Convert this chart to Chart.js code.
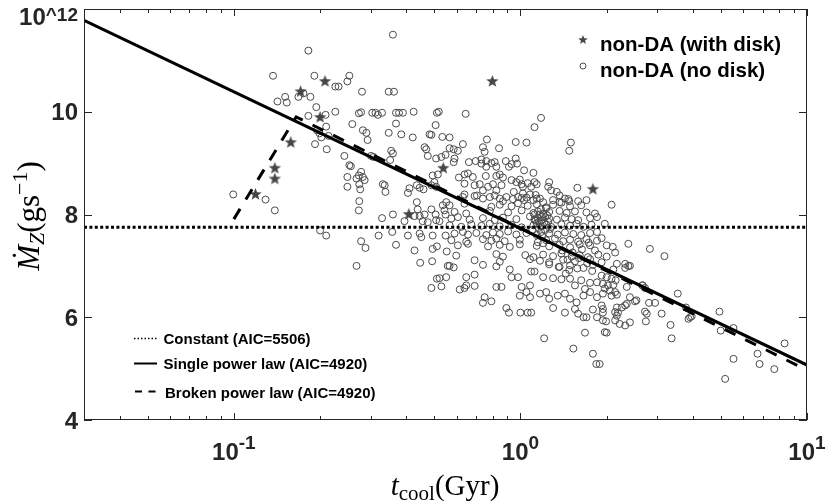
<!DOCTYPE html>
<html lang="en">
<head>
  <meta charset="UTF-8">
  <title>Mdot_Z vs t_cool</title>
  <script src="https://cdn.jsdelivr.net/npm/chart.js"></script>
  <style>
    body { margin: 0; background: #fff; }
    #caixa { width: 827px; height: 503px; }
  </style>
</head>
<body>
<div id="caixa"><canvas id="grafico"></canvas></div>
<script>
// non-DA with disk (stars)
var tDisco = [0.119, 0.139, 0.139, 0.158, 0.171, 0.200, 0.208, 0.408, 0.538, 0.798, 1.79];
var mDisco = [8.39, 8.69, 8.90, 9.40, 10.39, 9.89, 10.59, 8.00, 8.90, 10.59, 8.49];

// non-DA without disk (open circles)
var tSemDisco = [
  0.137,0.151,0.142,0.153,0.168,0.0995,0.129,0.139,
  0.359,0.182,0.191,0.253,0.249,0.226,0.232,0.175,0.185,0.280,0.347,0.362,
  0.194,0.182,0.209,0.226,0.273,0.278,0.304,0.312,0.318,0.329,0.368,0.377,
  0.389,0.424,0.511,0.519,0.259,0.210,0.195,0.199,0.202,0.214,0.192,0.211,
  0.282,0.290,0.293,0.368,0.347,0.384,0.421,0.482,0.489,0.506,0.534,0.566,
  0.463,0.469,0.475,0.508,0.530,0.548,0.354,0.359,0.351,0.301,0.307,0.243,
  0.253,0.256,0.278,0.273,0.282,0.268,0.286,0.274,0.249,0.249,0.276,0.274,
  0.331,0.336,0.338,0.410,0.405,0.435,0.445,0.459,0.494,0.515,0.501,0.489,
  0.508,0.435,0.551,
  0.273,0.329,0.359,0.438,0.427,0.445,0.463,0.456,0.394,0.489,0.506,0.508,
  0.522,0.475,0.543,0.536,0.548,0.200,0.210,0.278,0.288,0.268,0.320,0.357,
  0.368,0.405,0.445,0.451,0.427,0.447,0.494,0.494,0.511,0.548,0.492,0.553,
  0.558,0.551,0.511,0.522,0.489,0.530,
  0.644,1.18,1.12,0.764,0.630,0.963,1.05,0.842,1.50,1.48,
  0.740,0.750,0.566,0.585,0.605,0.589,0.585,0.661,0.698,0.731,
  0.760,0.792,0.813,0.824,0.760,0.731,0.889,0.931,0.963,0.973,
  0.912,1.03,1.11,0.610,0.638,0.656,0.682,0.638,0.757,0.824,
  0.847,0.869,0.692,0.721,0.771,0.802,0.824,0.859,0.740,0.705,
  0.931,0.968,0.995,1.01,1.02,1.06,1.09,1.12,1.14,1.26,
  1.25,1.28,1.34,1.37,1.43,1.58,1.59,1.48,0.638,0.948,
  0.981,1.02,1.05,1.08,1.03,1.11,1.13,1.17,1.20,0.740,
  0.782,0.813,0.847,0.869,1.30,1.37,
  0.630,0.692,0.893,0.942,1.01,1.14,1.47,1.70,
  0.566,0.638,0.792,0.847,0.931,0.981,1.06,1.14,1.23,1.30,1.39,1.49,1.63,
  0.589,0.647,0.782,0.906,1.01,1.11,1.15,1.20,1.26,1.37,1.45,1.55,1.70,1.82,
  0.574,0.605,0.665,0.740,0.813,0.869,0.968,1.08,1.12,1.15,1.18,1.22,1.26,1.34,1.43,1.51,1.59,1.75,1.85,
  0.566,0.622,0.674,0.731,0.782,0.847,0.931,1.01,1.11,1.14,1.18,1.23,1.28,1.39,1.49,1.57,1.66,1.77,
  0.589,0.630,0.656,0.702,0.760,0.802,0.847,0.906,0.968,1.05,1.14,1.18,1.26,1.35,1.43,1.53,1.63,1.75,1.85,
  0.574,0.647,0.740,0.792,0.824,0.881,0.995,1.15,1.23,1.32,1.41,1.49,1.59,1.70,1.85,
  0.605,0.656,0.771,0.847,0.918,0.995,1.14,1.20,1.26,1.37,1.49,1.61,1.75,
  0.597,0.824,0.869,1.04,1.11,1.20,1.30,1.39,1.51,1.61,1.72,1.87,
  0.692,0.847,1.08,1.17,1.26,1.41,1.55,1.75,
  0.566,0.585,0.740,0.824,1.26,1.37,1.49,1.66,1.79,
  1.09,1.12,0.918,0.931,0.981,0.647,0.692,1.20,1.30,1.39,
  1.49,1.63,1.75,1.85,0.614,0.638,0.647,0.692,0.824,0.859,
  1.01,1.08,1.05,0.995,1.08,1.17,1.23,1.26,1.35,1.43,
  1.49,1.57,1.66,1.75,1.85,0.750,0.740,0.792,0.893,0.912,
  1.00,1.06,1.09,1.30,1.43,1.55,1.59,1.66,1.70,1.79,
  1.85,1.21,1.68,1.53,1.79,1.84,
  2.08,1.97,1.92,2.00,2.10,2.14,2.00,1.92,2.17,2.32,
  2.38,2.41,2.11,2.32,2.38,2.83,3.18,2.67,2.72,1.92,
  2.00,2.08,2.15,1.94,2.02,2.11,1.97,2.05,2.14,1.94,
  2.08,2.17,2.41,2.35,2.51,2.32,2.26,2.17,1.92,1.94,
  2.14,2.19,2.17,1.94,2.81,2.95,3.11,3.54,3.78,3.91,
  3.86,3.96,2.72,2.76,2.74,1.94,1.99,1.97,2.00,2.14,
  2.22,2.32,2.41,3.34,3.37,1.89,4.95,5.00,5.54,5.54,
  6.72,6.83,7.69,8.35,5.18,2.54,2.35,2.66,
  1.16,1.19,1.21,1.24,1.17,
  1.10,1.13,1.16,1.18,1.22,1.25,1.12,1.19,1.23,1.27,
  1.40,1.46,1.52,1.58,1.64,1.71,1.78,1.44,1.55,1.68,
  1.36,1.48,1.60,1.73,1.82
];
var mSemDisco = [
  10.70,10.29,10.20,10.18,10.29,8.39,8.29,8.08,
  11.50,11.19,10.70,10.70,10.59,10.49,10.49,10.36,10.29,10.39,10.39,10.39,
  10.09,9.92,9.94,10.00,9.97,9.99,9.98,9.98,9.94,9.98,9.98,9.98,
  9.98,10.00,9.98,10.00,9.76,9.71,9.64,9.58,9.50,9.53,9.37,9.27,
  9.64,9.59,9.45,9.77,9.59,9.56,9.50,9.56,9.55,9.74,9.51,9.50,
  9.31,9.27,9.14,9.09,9.12,9.16,9.24,9.19,9.06,9.14,9.12,9.14,
  8.96,8.94,8.83,8.76,8.73,8.70,8.67,8.59,8.73,8.54,8.49,8.26,
  8.59,8.57,8.44,8.51,8.42,8.57,8.52,8.49,8.76,8.78,8.63,8.57,
  8.54,8.24,8.24,
  8.08,7.93,8.00,8.10,7.97,7.97,8.00,7.87,7.87,8.10,8.00,7.89,
  7.87,7.85,8.08,8.18,8.00,7.69,7.59,7.48,7.35,7.00,7.59,7.66,
  7.41,7.59,7.63,7.56,7.30,7.06,7.59,7.33,7.38,7.59,7.09,7.28,
  7.00,6.78,6.75,6.76,6.57,6.60,
  9.96,9.88,9.70,9.46,9.37,9.41,9.40,9.29,9.40,9.24,
  9.31,9.22,9.29,9.27,9.24,9.09,9.02,9.02,9.04,9.07,
  9.04,9.00,9.02,8.93,8.93,8.99,9.04,8.98,9.09,8.99,
  8.93,8.86,8.81,8.72,8.78,8.80,8.73,8.60,8.75,8.75,
  8.78,8.72,8.57,8.59,8.54,8.59,8.47,8.57,8.47,8.37,
  8.67,8.63,8.68,8.59,8.54,8.61,8.54,8.63,8.59,8.63,
  8.54,8.47,8.44,8.37,8.31,8.52,8.26,8.26,8.39,8.44,
  8.34,8.41,8.33,8.39,8.28,8.28,8.38,8.31,8.24,8.31,
  8.34,8.37,8.31,8.26,8.28,8.24,
  8.34,8.36,8.34,8.30,8.32,8.31,8.30,8.28,
  8.18,8.21,8.15,8.19,8.16,8.22,8.17,8.20,8.14,8.19,8.23,8.16,8.18,
  8.05,8.02,8.07,8.04,8.08,8.03,8.06,8.01,8.05,8.07,8.03,8.06,8.04,8.02,
  7.92,7.95,7.90,7.93,7.89,7.94,7.91,7.96,7.90,7.93,7.88,7.95,7.92,7.90,7.94,7.91,7.89,7.93,7.95,
  7.79,7.76,7.81,7.78,7.82,7.77,7.80,7.75,7.79,7.83,7.77,7.80,7.76,7.81,7.78,7.82,7.76,7.80,
  7.63,7.66,7.61,7.64,7.60,7.65,7.62,7.67,7.61,7.64,7.60,7.66,7.63,7.61,7.65,7.62,7.60,7.64,7.66,
  7.50,7.47,7.52,7.49,7.53,7.48,7.51,7.46,7.50,7.53,7.48,7.51,7.47,7.52,7.49,
  7.40,7.43,7.38,7.41,7.37,7.42,7.39,7.44,7.38,7.41,7.36,7.42,7.40,
  7.20,7.23,7.18,7.21,7.17,7.22,7.19,7.24,7.18,7.21,7.17,7.22,
  7.11,7.08,7.13,7.10,7.07,7.12,7.09,7.13,
  7.00,6.97,7.02,6.99,7.03,6.98,7.01,6.96,7.02,
  6.89,6.89,6.93,6.78,6.78,6.78,6.83,6.78,6.76,6.74,
  6.75,6.72,6.67,6.68,6.54,6.57,6.62,6.61,6.59,6.59,
  6.59,6.62,6.49,6.42,6.39,6.46,6.49,6.36,6.42,6.46,
  6.36,6.29,6.42,6.49,6.39,6.39,6.28,6.31,6.18,6.09,
  6.09,6.09,6.09,6.18,6.09,6.16,6.07,6.00,6.00,6.15,
  6.00,5.59,5.70,5.39,5.29,5.09,
  8.19,7.82,7.54,7.40,7.37,7.26,7.18,7.07,7.04,7.04,
  7.00,7.00,6.93,6.96,7.43,7.33,7.19,6.62,6.57,6.81,
  6.78,6.75,6.72,6.65,6.62,6.63,6.56,6.52,6.49,6.46,
  6.42,6.44,6.39,6.26,6.31,6.23,6.19,6.19,6.23,6.16,
  6.10,6.09,6.03,6.09,6.28,6.28,6.07,6.46,6.19,6.00,
  5.97,6.02,6.11,6.07,5.92,5.94,5.92,5.71,5.70,5.94,
  5.87,5.84,5.90,5.85,5.59,5.09,6.11,5.74,5.79,5.19,
  5.29,5.09,4.99,5.49,4.80,6.33,6.59,6.62,
  7.86,7.95,7.84,7.98,8.00,
  7.70,7.88,7.74,8.10,7.70,7.86,8.00,7.58,8.12,7.72,
  7.30,7.12,7.26,6.95,7.32,7.05,6.90,6.85,6.62,6.55,
  6.98,6.92,7.15,7.45,7.30
];

// fitted models
var tConstante = [0.03, 10];
var mConstante = [7.75, 7.75];
var tSimples = [0.03, 10];
var mSimples = [11.78, 5.07];
var tQuebrada = [0.1, 0.165, 10];
var mQuebrada = [7.91, 9.90, 4.97];

var legendaPontos = ['non-DA (with disk)', 'non-DA (no disk)'];
var legendaLinhas = ['Constant (AIC=5506)', 'Single power law (AIC=4920)', 'Broken power law (AIC=4920)'];

var xTicks = [0.1, 1, 10];
var xExpoentes = ['-1', '0', '1'];
var yTicks = [4, 6, 8, 10, 12];
var yRotulos = ['4', '6', '8', '10', '10^12'];

var COR_EIXO = '#262626';

function pontos(xs, ys) {
  var p = [];
  for (var i = 0; i < xs.length; i++) p.push({ x: xs[i], y: ys[i] });
  return p;
}

// filled five point star used as point image
function fazerEstrela(r, cor) {
  var c = document.createElement('canvas');
  c.width = c.height = Math.ceil(r * 2) + 2;
  var g = c.getContext('2d');
  var cx = c.width / 2, cy = c.height / 2;
  g.beginPath();
  for (var i = 0; i < 10; i++) {
    var ang = -Math.PI / 2 + i * Math.PI / 5;
    var rr = (i % 2 == 0) ? r : r * 0.42;
    g.lineTo(cx + rr * Math.cos(ang), cy + rr * Math.sin(ang));
  }
  g.closePath();
  g.fillStyle = cor;
  g.fill();
  return c;
}

var estrela = fazerEstrela(6.5, '#464646');
var estrelaLegenda = fazerEstrela(5, '#464646');

// minor tick positions of the log axis
var xMenores = [];
for (var d = 0.01; d < 10; d *= 10) {
  for (var k = 2; k <= 9; k++) {
    var v = +(k * d).toPrecision(3);
    if (v >= 0.03 && v <= 10) xMenores.push(v);
  }
}

function larguraTexto(ctx, txt, fonte) {
  ctx.font = fonte;
  return ctx.measureText(txt).width;
}

var moldura = {
  id: 'moldura',
  afterDraw: function(chart) {
    var ctx = chart.ctx, a = chart.chartArea;
    var sx = chart.scales.x, sy = chart.scales.y;
    ctx.save();

    // box and inward ticks
    ctx.strokeStyle = COR_EIXO;
    ctx.lineWidth = 1;
    ctx.setLineDash([]);
    ctx.strokeRect(a.left + 0.5, a.top + 0.5, a.right - a.left - 1, a.bottom - a.top - 1);
    ctx.beginPath();
    xMenores.forEach(function(v) {
      var px = Math.round(sx.getPixelForValue(v)) + 0.5;
      ctx.moveTo(px, a.bottom); ctx.lineTo(px, a.bottom - 4);
      ctx.moveTo(px, a.top); ctx.lineTo(px, a.top + 4);
    });
    xTicks.forEach(function(v) {
      var px = Math.round(sx.getPixelForValue(v)) + 0.5;
      ctx.moveTo(px, a.bottom); ctx.lineTo(px, a.bottom - 7);
      ctx.moveTo(px, a.top); ctx.lineTo(px, a.top + 7);
    });
    yTicks.forEach(function(v) {
      var py = Math.round(sy.getPixelForValue(v)) + 0.5;
      ctx.moveTo(a.left, py); ctx.lineTo(a.left + 8, py);
      ctx.moveTo(a.right, py); ctx.lineTo(a.right - 8, py);
    });
    ctx.stroke();

    // tick labels
    var fBase = 'bold 24px "Liberation Sans", Arial, sans-serif';
    var fExp = 'bold 19px "Liberation Sans", Arial, sans-serif';
    ctx.fillStyle = COR_EIXO;
    ctx.textBaseline = 'alphabetic';
    ctx.textAlign = 'left';
    xTicks.forEach(function(v, i) {
      var px = sx.getPixelForValue(v);
      var wb = larguraTexto(ctx, '10', fBase);
      var we = larguraTexto(ctx, xExpoentes[i], fExp);
      var x0 = px - (wb + we) / 2;
      ctx.font = fBase; ctx.fillText('10', x0, 460);
      ctx.font = fExp; ctx.fillText(xExpoentes[i], x0 + wb, 449);
    });
    ctx.textAlign = 'right';
    yTicks.forEach(function(v, i) {
      var py = sy.getPixelForValue(v);
      var r = yRotulos[i];
      var pos = r.indexOf('^');
      if (pos > 0) {
        var base = r.substring(0, pos), exp = r.substring(pos);
        var fe = 'bold 19px "Liberation Sans", Arial, sans-serif';
        var we = larguraTexto(ctx, exp, fe);
        ctx.font = fe; ctx.fillText(exp, 78, py + 12);
        ctx.font = fBase; ctx.fillText(base, 78 - we, py + 16);
      } else {
        ctx.font = fBase; ctx.fillText(r, 78, py + 8.6);
      }
    });

    // axis titles
    var fSerif = '"Liberation Serif", "DejaVu Serif", serif';
    ctx.textAlign = 'left';
    var w1 = larguraTexto(ctx, 't', 'italic 29px ' + fSerif);
    var w2 = larguraTexto(ctx, 'cool', '21px ' + fSerif);
    var w3 = larguraTexto(ctx, '(Gyr)', '29px ' + fSerif);
    var x0 = 445 - (w1 + w2 + w3) / 2;
    ctx.fillStyle = '#000';
    ctx.font = 'italic 29px ' + fSerif; ctx.fillText('t', x0, 495);
    ctx.font = '21px ' + fSerif; ctx.fillText('cool', x0 + w1, 500);
    ctx.font = '29px ' + fSerif; ctx.fillText('(Gyr)', x0 + w1 + w2, 495);

    ctx.save();
    ctx.translate(39, 216);
    ctx.rotate(-Math.PI / 2);
    var partes = [
      ['\u1E40', 'italic 31px ', 0],
      ['Z', 'italic 22px ', 5],
      ['(gs', '31px ', 0],
      ['\u22121', '22px ', -12],
      [')', '31px ', 0]
    ];
    var total = 0;
    partes.forEach(function(p) { total += larguraTexto(ctx, p[0], p[1] + fSerif); });
    var cx = -total / 2;
    partes.forEach(function(p) {
      ctx.font = p[1] + fSerif;
      ctx.fillText(p[0], cx, p[2]);
      cx += ctx.measureText(p[0]).width;
    });
    ctx.restore();

    // legend top right (markers)
    ctx.fillStyle = '#000';
    ctx.font = 'bold 20.5px "Liberation Sans", Arial, sans-serif';
    ctx.drawImage(estrelaLegenda, 583 - estrelaLegenda.width / 2, 40 - estrelaLegenda.height / 2);
    ctx.fillText(legendaPontos[0], 600, 50.5);
    ctx.beginPath();
    ctx.arc(583, 66, 3, 0, Math.PI * 2);
    ctx.strokeStyle = '#4d4d4d';
    ctx.stroke();
    ctx.fillText(legendaPontos[1], 600, 76.5);

    // legend bottom left (models)
    ctx.font = 'bold 15px "Liberation Sans", Arial, sans-serif';
    ctx.strokeStyle = '#000';
    ctx.lineWidth = 1.5;
    ctx.setLineDash([1.5, 2]);
    ctx.beginPath(); ctx.moveTo(134, 338.5); ctx.lineTo(157, 338.5); ctx.stroke();
    ctx.setLineDash([]);
    ctx.lineWidth = 2;
    ctx.beginPath(); ctx.moveTo(134, 363.5); ctx.lineTo(157, 363.5); ctx.stroke();
    ctx.setLineDash([7, 6.5]);
    ctx.beginPath(); ctx.moveTo(135, 391.5); ctx.lineTo(157, 391.5); ctx.stroke();
    ctx.setLineDash([]);
    ctx.fillText(legendaLinhas[0], 163.5, 343.5);
    ctx.fillText(legendaLinhas[1], 163.5, 368.5);
    ctx.fillText(legendaLinhas[2], 165, 397.5);

    ctx.restore();
  }
};

var ctx = document.getElementById('grafico').getContext('2d');
var grafico = new Chart(ctx, {
  type: 'scatter',
  data: {
    datasets: [
      {
        label: 'Constant',
        data: pontos(tConstante, mConstante),
        showLine: true, pointRadius: 0, borderColor: '#000', borderWidth: 3,
        borderDash: [3, 2.4], order: 0
      },
      {
        label: 'Single power law',
        data: pontos(tSimples, mSimples),
        showLine: true, pointRadius: 0, borderColor: '#000', borderWidth: 3, order: 0
      },
      {
        label: 'Broken power law',
        data: pontos(tQuebrada, mQuebrada),
        showLine: true, pointRadius: 0, borderColor: '#000', borderWidth: 3,
        borderDash: [12, 11], order: 0
      },
      {
        label: legendaPontos[0],
        data: pontos(tDisco, mDisco),
        pointStyle: estrela, order: 1
      },
      {
        label: legendaPontos[1],
        data: pontos(tSemDisco, mSemDisco),
        pointStyle: 'circle', pointRadius: 3.5, borderWidth: 1,
        borderColor: '#4a4a4a', backgroundColor: 'rgba(0,0,0,0)', order: 2
      }
    ]
  },
  options: {
    responsive: true,
    maintainAspectRatio: false,
    animation: false,
    layout: { padding: { left: 84, right: 20, top: 9, bottom: 83 } },
    plugins: { legend: { display: false }, tooltip: { enabled: false } },
    scales: {
      x: { type: 'logarithmic', min: 0.03, max: 10, display: false },
      y: { type: 'linear', min: 4, max: 12, display: false }
    }
  },
  plugins: [moldura]
});
</script>
</body>
</html>
